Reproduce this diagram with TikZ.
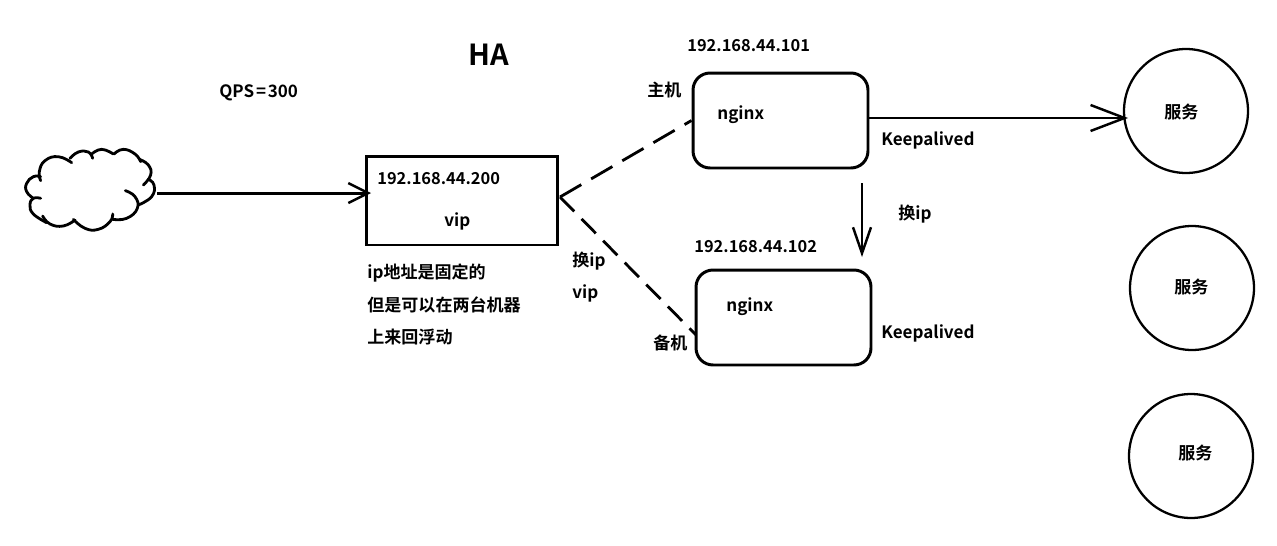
\documentclass[tikz,border=0pt]{standalone}
\usepackage{fontspec}
\setmainfont{Noto Sans CJK SC}[BoldFont={Noto Sans CJK SC Bold}]
\usepackage{tikz}
\usetikzlibrary{arrows.meta}

\begin{document}
\begin{tikzpicture}[
    x=0.02cm, y=-0.02cm,
    box/.style={rectangle, draw, line width=1.7pt, inner sep=0pt},
    host/.style={box, rounded corners=0.34cm, minimum width=3.5cm, minimum height=1.9cm},
    service/.style={circle, draw, line width=1.3pt, inner sep=0pt, minimum size=2.48cm},
    label/.style={anchor=west, inner sep=0pt, font=\fontsize{9.7pt}{11pt}\selectfont\bfseries},
    addr/.style={label, font=\fontsize{9.35pt}{11pt}\selectfont\bfseries},
    puff/.style={line width=1.6pt, line cap=round, smooth, tension=0.8},
    link/.style={line width=1.6pt}
]
    \useasboundingbox (0, 0) rectangle (1277, 545);

    % Client cloud
    \node[minimum width=2.56cm, minimum height=1.66cm, inner sep=0pt] (cloud) at (90, 190) {};
    \begin{scope}[shift={(20, 140)}, x=0.00667cm, y=-0.00667cm]
        \draw[puff] plot coordinates {(62,122) (58,95) (75,62) (115,50) (155,68)};
        \draw[puff] plot coordinates {(150,55) (175,36) (205,36) (218,55)};
        \draw[puff] plot coordinates {(215,42) (245,28) (280,42)};
        \draw[puff] plot coordinates {(282,42) (310,28) (345,42) (362,65)};
        \draw[puff] plot coordinates {(358,58) (385,75) (392,105) (370,135)};
        \draw[puff] plot coordinates {(385,118) (402,135) (395,170) (355,195)};
        \draw[puff] plot coordinates {(316,152) (345,170) (352,205) (320,235) (278,238)};
        \draw[puff] plot coordinates {(278,222) (270,245) (235,268) (195,265) (160,238)};
        \draw[puff] plot coordinates {(165,240) (130,258) (90,252) (68,228)};
        \draw[puff] plot coordinates {(80,248) (40,222) (30,195) (40,175) (62,175)};
        \draw[puff] plot coordinates {(40,175) (20,155) (20,130) (40,110) (62,110)};
    \end{scope}

    % Virtual ip box
    \node[box, minimum width=3.84cm, minimum height=1.78cm] (vip) at (462, 200.5) {};
    \node[addr] (vipaddr) at (377, 179) {192.168.44.200};
    \node[label] (viptext) at (444, 221) {vip};

    % Hosts
    \node[host] (nginxa) at (780.5, 120.5) {};
    \node[host] (nginxb) at (783.5, 317.5) {};
    \node[label] (nginxatext) at (717, 114.5) {nginx};
    \node[label] (nginxbtext) at (726, 306.5) {nginx};
    \node[addr] (addra) at (687, 46) {192.168.44.101};
    \node[addr] (addrb) at (694, 247) {192.168.44.102};
    \node[label] (master) at (647, 90) {主机};
    \node[label] (backup) at (653, 343) {备机};
    \node[label] (keepa) at (881, 140.5) {Keepalived};
    \node[label] (keepb) at (881, 333.5) {Keepalived};

    % Services
    \node[service] (svca) at (1186, 111) {};
    \node[service] (svcb) at (1192, 288) {};
    \node[service] (svcc) at (1191, 456) {};
    \node[label] at (1164, 112) {服务};
    \node[label] at (1174, 287) {服务};
    \node[label] at (1178, 453) {服务};

    % Other labels
    \node[label, anchor=center, font=\fontsize{16.5pt}{18pt}\selectfont\bfseries] (title) at (488.5, 55) {HA};
    \node[label] (qps) at (219, 93) {QPS\kern1pt=\kern1pt300};
    \node[label] (swapa) at (898, 214) {换ip};
    \node[label] (swapb) at (572, 261) {换ip};
    \node[label] (swapvip) at (572, 293) {vip};
    \node[label] (notea) at (367, 273) {ip地址是固定的};
    \node[label] (noteb) at (367, 305) {但是可以在两台机器};
    \node[label] (notec) at (367, 337) {上来回浮动};

    % Connector ends
    \coordinate (vipin) at (371, 193);
    \coordinate (vipout) at (560, 197);
    \coordinate (backupin) at (696, 335);
    \coordinate (svcin) at (1128, 118);
    \coordinate (swapfrom) at (862, 183);
    \coordinate (swapto) at (862, 257);

    % Arrows
    \draw[line width=1.7pt, -{Straight Barb[length=0.4cm, width=0.4cm, line width=1.4pt]}] (cloud.east |- vipin) ++(3, 0) -- (vipin);
    \draw[line width=1.6pt, -{Straight Barb[length=0.68cm, width=0.52cm, line width=1.4pt]}] (nginxa.east |- svcin) -- (svcin);
    \draw[line width=1.4pt, -{Straight Barb[length=0.52cm, width=0.36cm, line width=1.4pt]}] (swapfrom) -- (swapto);
    \draw[link, dash pattern=on 14pt off 6.5pt] (vipout) -- (nginxa.west);
    \draw[link, dash pattern=on 11.5pt off 6pt] (vipout) -- (backupin);
\end{tikzpicture}
\end{document}
